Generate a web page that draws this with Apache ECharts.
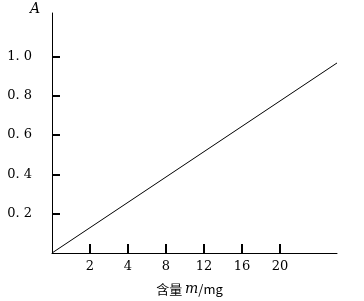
<!DOCTYPE html>
<html><head><meta charset="utf-8">
<script src="https://cdn.jsdelivr.net/npm/echarts@6/dist/echarts.min.js"></script>
<style>html,body{margin:0;padding:0;background:#fff}#c{width:364px;height:301px}</style>
</head><body><div id="c"></div>
<script>
// x tick positions (schematic slots) and their labels
const xTickPos = [1, 2, 3, 4, 5, 6];
const xTickLabels = ['2', '4', '8', '12', '16', '20'];
// y ticks
const yTickVals = [0.2, 0.4, 0.6, 0.8, 1.0];
const yTickLabels = ['0. 2', '0. 4', '0. 6', '0. 8', '1. 0'];
// calibration line: [slot position, absorbance]
const lineX = [0, 7.5];
const lineY = [0, 0.966];

const serif = '"DejaVu Serif", "Liberation Serif", serif';
const chart = echarts.init(document.getElementById('c'), null, {renderer: 'canvas'});
chart.setOption({
  animation: false,
  backgroundColor: '#fff',
  grid: {left: 52, right: 27, top: 13, bottom: 48, containLabel: false, outerBoundsMode: 'none'},
  xAxis: {
    type: 'value', min: 0, max: 7.5,
    name: '含量 {i|m}/mg',
    nameLocation: 'middle', nameGap: 29,
    nameTextStyle: {
      color: '#000', fontSize: 13, fontFamily: '"Noto Sans CJK SC", serif', padding: [0, 10, 0, 0],
      rich: {i: {fontStyle: 'italic', fontFamily: serif, fontSize: 14, color: '#000'}}
    },
    axisLine: {lineStyle: {color: '#000', width: 1}},
    axisTick: {show: true, inside: true, length: 9, customValues: xTickPos, lineStyle: {color: '#000', width: 2}},
    axisLabel: {
      customValues: xTickPos, margin: 7, color: '#000', fontSize: 13, fontFamily: serif,
      formatter: v => { const i = xTickPos.indexOf(Math.round(v)); return i >= 0 ? xTickLabels[i] : ''; }
    },
    splitLine: {show: false}
  },
  yAxis: {
    type: 'value', min: 0, max: 1.22,
    name: 'A', nameLocation: 'end', nameGap: -3,
    nameTextStyle: {color: '#000', fontSize: 14, fontStyle: 'italic', fontFamily: serif, align: 'right', padding: [0, 12, 0, 0]},
    axisLine: {show: true, lineStyle: {color: '#000', width: 1}},
    axisTick: {show: true, inside: true, length: 8, customValues: yTickVals, lineStyle: {color: '#000', width: 2}},
    axisLabel: {
      customValues: yTickVals, margin: 20, color: '#000', fontSize: 13, fontFamily: serif,
      formatter: v => { const i = yTickVals.findIndex(t => Math.abs(t - v) < 1e-6); return i >= 0 ? yTickLabels[i] : ''; }
    },
    splitLine: {show: false}
  },
  series: [{
    type: 'line',
    data: lineX.map((x, i) => [x, lineY[i]]),
    showSymbol: false, symbol: 'none',
    lineStyle: {color: '#000', width: 1},
    silent: true
  }]
});
</script></body></html>
